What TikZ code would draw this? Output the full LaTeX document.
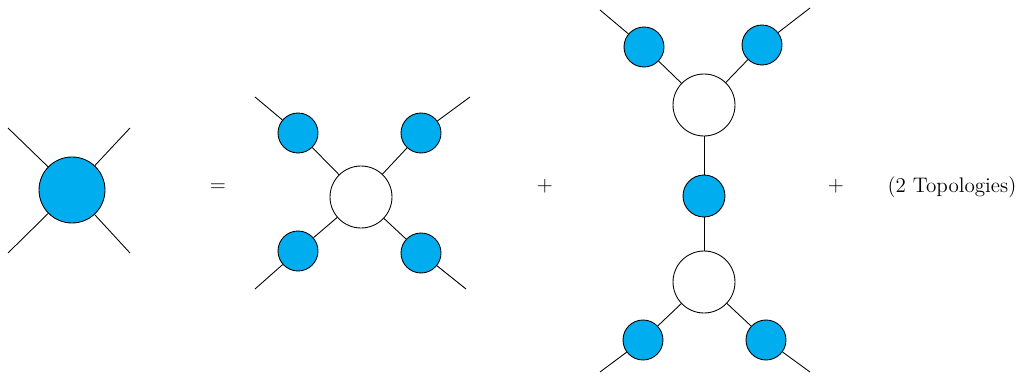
\documentclass[tikz,border=0pt]{standalone}
\usepackage{xcolor}
\usepackage{tikz}
\definecolor{blobblue}{RGB}{0,174,239}

\begin{document}
\begin{tikzpicture}[x=0.02cm, y=-0.02cm, line width=0.5pt,
  bigblob/.style={draw, circle, fill=blobblue, minimum size=1.32cm, inner sep=0pt},
  blob/.style={draw, circle, fill=blobblue, minimum size=0.8cm, inner sep=0pt},
  vertex/.style={draw, circle, fill=white, minimum size=1.24cm, inner sep=0pt},
  sym/.style={font=\large}]
\useasboundingbox (0,0) rectangle (1021,378);
% full four-point function
\node[bigblob] (full) at (72,190) {};
\coordinate (f1) at (8,128);
\coordinate (f2) at (130,128);
\coordinate (f3) at (8,253);
\coordinate (f4) at (130,253);
\foreach \c in {f1,f2,f3,f4} \draw (\c) -- (full);
\node[sym] (eq) at (218,188) {$=$};
% contact term
\node[vertex] (c) at (361,197) {};
\node[blob] (c1) at (298,133) {};
\node[blob] (c2) at (421,133) {};
\node[blob] (c3) at (298,251) {};
\node[blob] (c4) at (421,253) {};
\coordinate (e1) at (255,97);
\coordinate (e2) at (470,97);
\coordinate (e3) at (255,289);
\coordinate (e4) at (466,289);
\foreach \i in {1,...,4} {
  \draw (e\i) -- (c\i);
  \draw (c\i) -- (c);
}
\node[sym] (plus1) at (545,186) {$+$};
% exchange term
\node[vertex] (t) at (704,105) {};
\node[vertex] (b) at (704,282) {};
\node[blob, minimum size=0.84cm] (prop) at (704,196) {};
\node[blob] (t1) at (644,47) {};
\node[blob] (t2) at (762,45) {};
\node[blob] (b1) at (643,340) {};
\node[blob] (b2) at (766,340) {};
\coordinate (u1) at (600,10);
\coordinate (u2) at (810,8);
\coordinate (d1) at (600,372);
\coordinate (d2) at (810,372);
\foreach \i in {1,2} {
  \draw (u\i) -- (t\i);
  \draw (t\i) -- (t);
  \draw (d\i) -- (b\i);
  \draw (b\i) -- (b);
}
\draw (t) -- (prop);
\draw (prop) -- (b);
\node[sym] (plus2) at (836,186) {$+$};
\node[font=\large] (rest) at (952,187) {(2 Topologies)};
\end{tikzpicture}
\end{document}
